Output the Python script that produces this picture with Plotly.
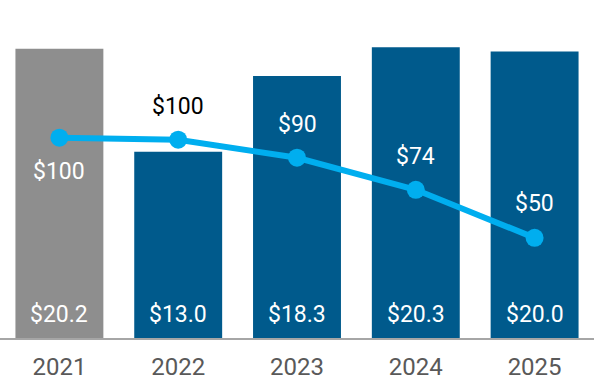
import plotly.graph_objects as go

years = ["2021", "2022", "2023", "2024", "2025"]
bar_values = [20.2, 13.0, 18.3, 20.3, 20.0]
bar_labels = ["$20.2", "$13.0", "$18.3", "$20.3", "$20.0"]
bar_colors = ["#8E8E8E", "#005A8C", "#005A8C", "#005A8C", "#005A8C"]
line_values = [100, 99, 90, 74, 50]
line_labels = ["$100", "$100", "$90", "$74", "$50"]
line_label_colors = ["white", "black", "white", "white", "white"]
line_label_shift = [-34, 33, 33, 33, 34]

FONT = "Roboto"
idx = list(range(len(years)))

fig = go.Figure()
fig.add_trace(go.Bar(
    x=idx, y=bar_values, marker=dict(color=bar_colors, line=dict(width=0)),
    yaxis="y", hoverinfo="skip", width=0.74,
))
fig.add_trace(go.Scatter(
    x=idx, y=line_values, yaxis="y2", mode="lines+markers",
    line=dict(color="#00AEEF", width=6),
    marker=dict(color="#00AEEF", size=18),
    hoverinfo="skip",
))

annotations = []
for x, lab in zip(idx, bar_labels):
    annotations.append(dict(
        x=x, y=0, xref="x", yref="y", text=lab, showarrow=False,
        yanchor="middle", yshift=24, font=dict(family=FONT, size=23, color="white"),
    ))
for x, v, lab, c, s in zip(idx, line_values, line_labels, line_label_colors, line_label_shift):
    annotations.append(dict(
        x=x, y=v, xref="x", yref="y2", text=lab, showarrow=False,
        yanchor="middle", yshift=s, font=dict(family=FONT, size=23, color=c),
    ))

fig.update_layout(
    width=594, height=384,
    margin=dict(l=0, r=0, t=0, b=46),
    paper_bgcolor="white", plot_bgcolor="white",
    showlegend=False,
    font=dict(family=FONT),
    xaxis=dict(
        range=[-0.5, 4.5], showgrid=False, zeroline=False,
        tickmode="array", tickvals=idx, ticktext=years,
        showline=True, linecolor="#A6A6A6", linewidth=2,
        ticks="outside", ticklen=6, tickcolor="rgba(0,0,0,0)",
        tickfont=dict(family=FONT, size=24, color="#595959"),
    ),
    yaxis=dict(range=[0, 23.6], visible=False, fixedrange=True),
    yaxis2=dict(range=[0, 168.75], overlaying="y", visible=False),
    annotations=annotations,
)

fig.write_html(
    "out.html",
    config={"displayModeBar": False, "staticPlot": True},
    post_script="document.body.style.margin='0';document.body.style.overflow='hidden';",
)
